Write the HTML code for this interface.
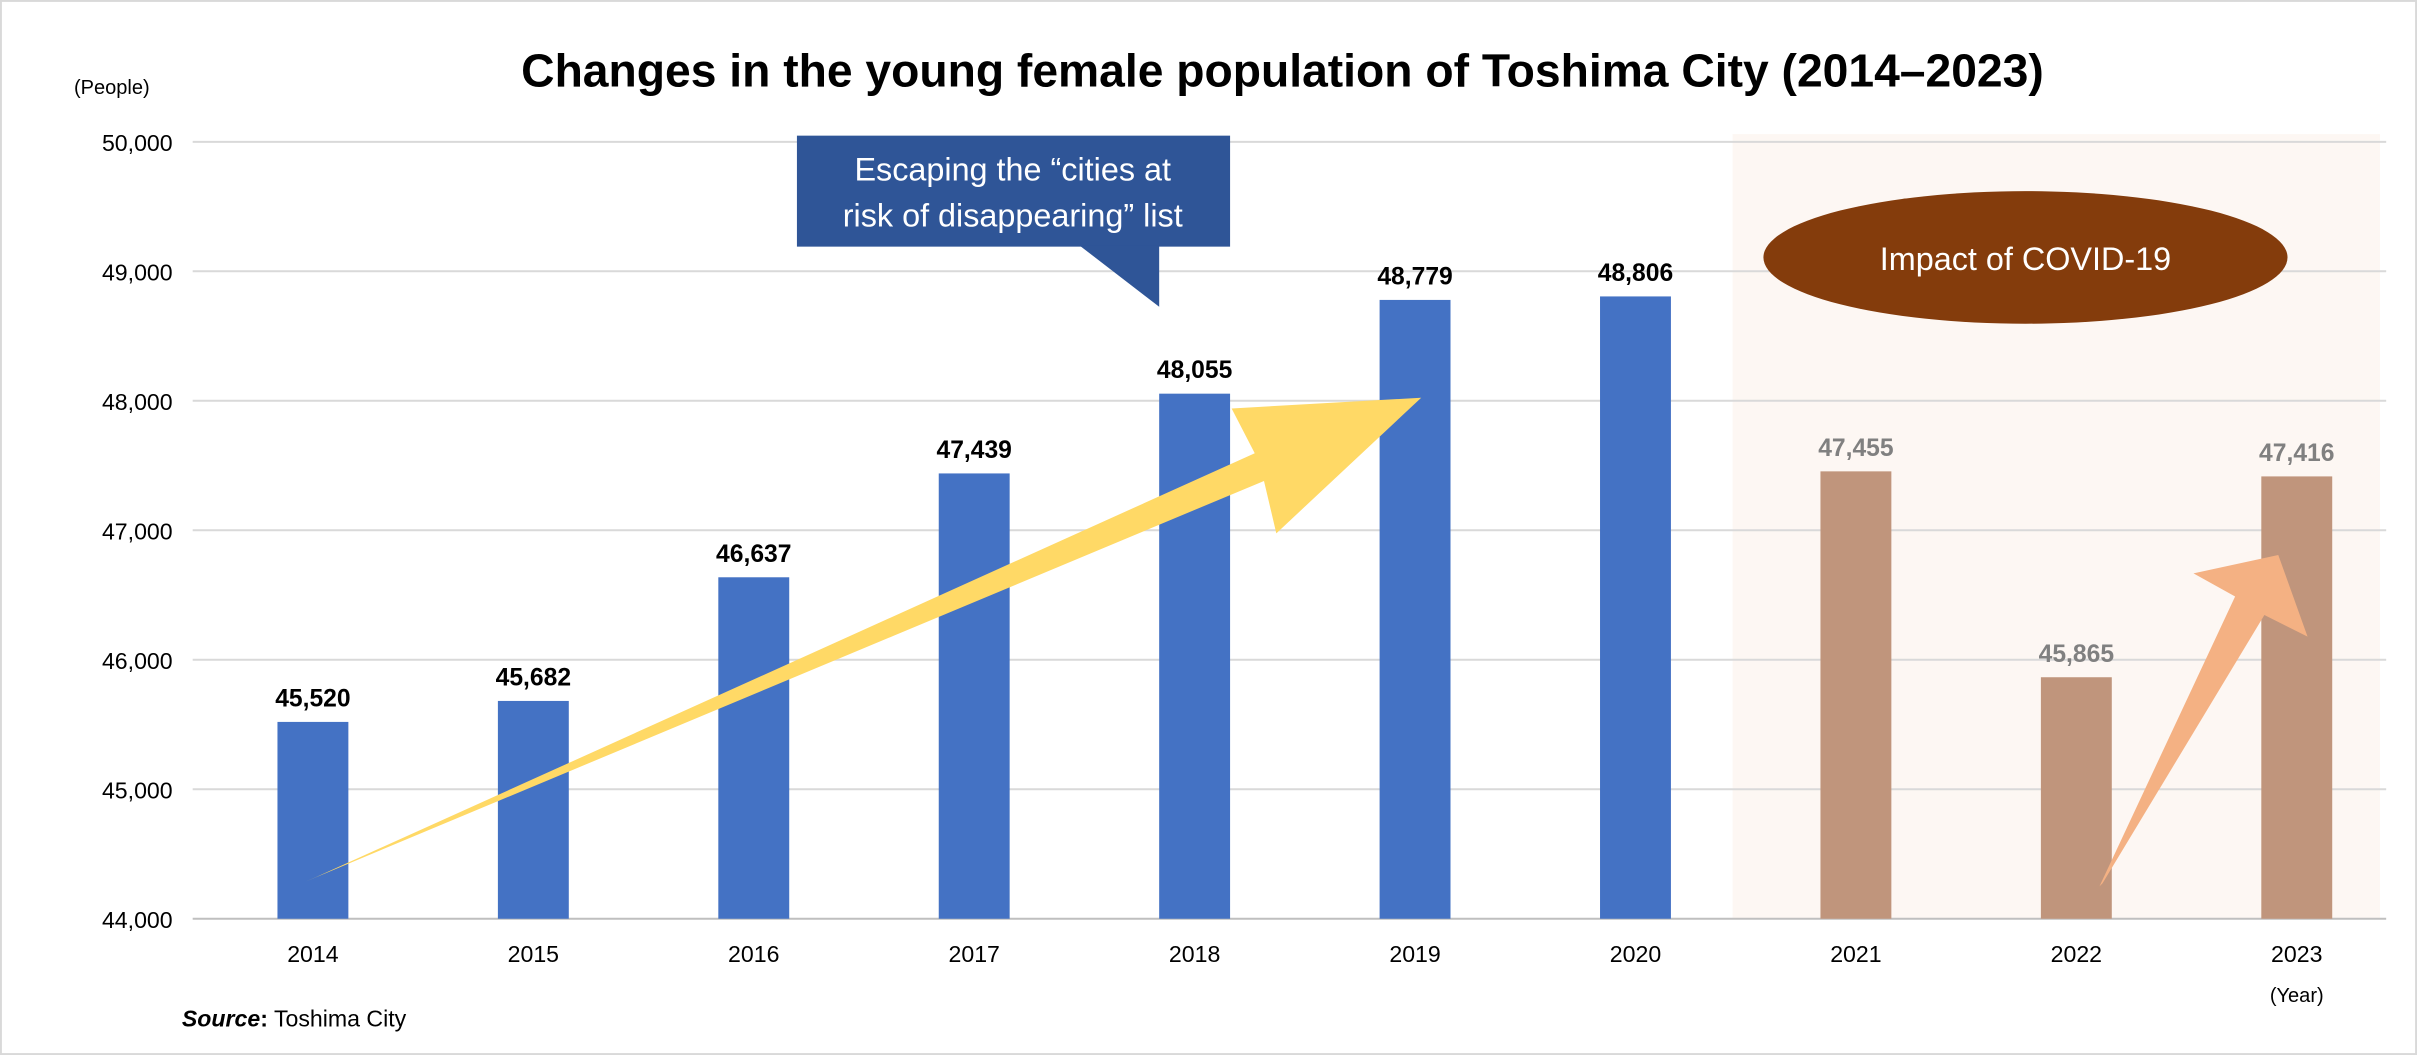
<!DOCTYPE html>
<html><head><meta charset="utf-8"><style>
html,body{margin:0;padding:0;background:#fff;}
svg{display:block;font-family:"Liberation Sans",Arial,sans-serif;}
</style></head><body>
<svg id="chart" width="2417" height="1055" viewBox="0 0 1568 684.4" preserveAspectRatio="none" xmlns="http://www.w3.org/2000/svg">
<rect x="0.5" y="0.5" width="1567" height="683.4" fill="#fff" stroke="#d9d9d9" stroke-width="1.5"/>
<rect x="1124" y="87" width="420" height="509" fill="#fdf7f3"/>
<g id="grid"></g>
<g id="bars"></g>
<text x="832" y="56" text-anchor="middle" font-size="30" font-weight="bold" fill="#000">Changes in the young female population of Toshima City (2014–2023)</text>
<text x="48" y="61" font-size="13" fill="#000">(People)</text>
<text x="1490" y="650" text-anchor="middle" font-size="13" fill="#000">(Year)</text>
<text x="118" y="666" font-size="15" fill="#000"><tspan font-weight="bold" font-style="italic">Source</tspan><tspan font-weight="bold">:</tspan> Toshima City</text>
<polygon points="198,572 205,569 814,294 799,265 922,258 828,346 820,312" fill="#ffd966"/>
<polygon points="1362,575 1450,387 1423,372 1478,360 1497,413 1469,399 1364,573" fill="#f4b183"/>
<g>
<rect x="517" y="88" width="281" height="72" fill="#2f5597"/>
<polygon points="700,159 752,159 752,199" fill="#2f5597"/>
<text x="657" y="117" text-anchor="middle" font-size="21" fill="#fff">Escaping the “cities at</text>
<text x="657" y="147" text-anchor="middle" font-size="21" fill="#fff">risk of disappearing” list</text>
</g>
<g>
<ellipse cx="1314" cy="167" rx="170" ry="43" fill="#843c0c"/>
<text x="1314" y="175" text-anchor="middle" font-size="21" fill="#fff">Impact of COVID-19</text>
</g>
</svg>
<script>
const categories = ["2014","2015","2016","2017","2018","2019","2020","2021","2022","2023"];
const values = [45520,45682,46637,47439,48055,48779,48806,47455,45865,47416];
const valueLabels = ["45,520","45,682","46,637","47,439","48,055","48,779","48,806","47,455","45,865","47,416"];
const covidFlags = [false,false,false,false,false,false,false,true,true,true];
const yTicks = [44000,45000,46000,47000,48000,49000,50000];
const yTickLabels = ["44,000","45,000","46,000","47,000","48,000","49,000","50,000"];

const NS = "http://www.w3.org/2000/svg";
const yMin = 44000, yMax = 50000, yTop = 92, yBot = 596;
function yScale(v){ return yBot - (v - yMin) / (yMax - yMin) * (yBot - yTop); }
function xScale(i){ return 203 + i * 143; }
const grid = document.getElementById('grid');
const bars = document.getElementById('bars');
function mk(tag, attrs, parent){ const e = document.createElementNS(NS, tag); for (const k in attrs) e.setAttribute(k, attrs[k]); parent.appendChild(e); return e; }

yTicks.forEach((t, i) => {
  const y = yScale(t);
  const l = mk('line', {x1:125, x2:1548, y1:y, y2:y, stroke: i===0 ? '#bfbfbf' : '#d9d9d9', 'stroke-width':1.3}, grid);
  
  
  const tx = mk('text', {x:112, y:y+6, 'text-anchor':'end', 'font-size':15, fill:'#000'}, grid);
  tx.textContent = yTickLabels[i];
  
  
});

categories.forEach((c, i) => {
  const cx = xScale(i), y = yScale(values[i]), w = 46;
  const r = mk('rect', {x:cx - w/2, y:y, width:w, height:yBot - y, fill: covidFlags[i] ? '#c0957c' : '#4472c4'}, bars);
  
  
  const v = mk('text', {x:cx, y:y - 10, 'text-anchor':'middle', 'font-size':16, 'font-weight':'bold', fill: covidFlags[i] ? '#808080' : '#000'}, bars);
  v.textContent = valueLabels[i];
  
  
  const xl = mk('text', {x:cx, y:624, 'text-anchor':'middle', 'font-size':15, fill:'#000'}, bars);
  xl.textContent = c;
  
  
});
</script>
</body></html>
